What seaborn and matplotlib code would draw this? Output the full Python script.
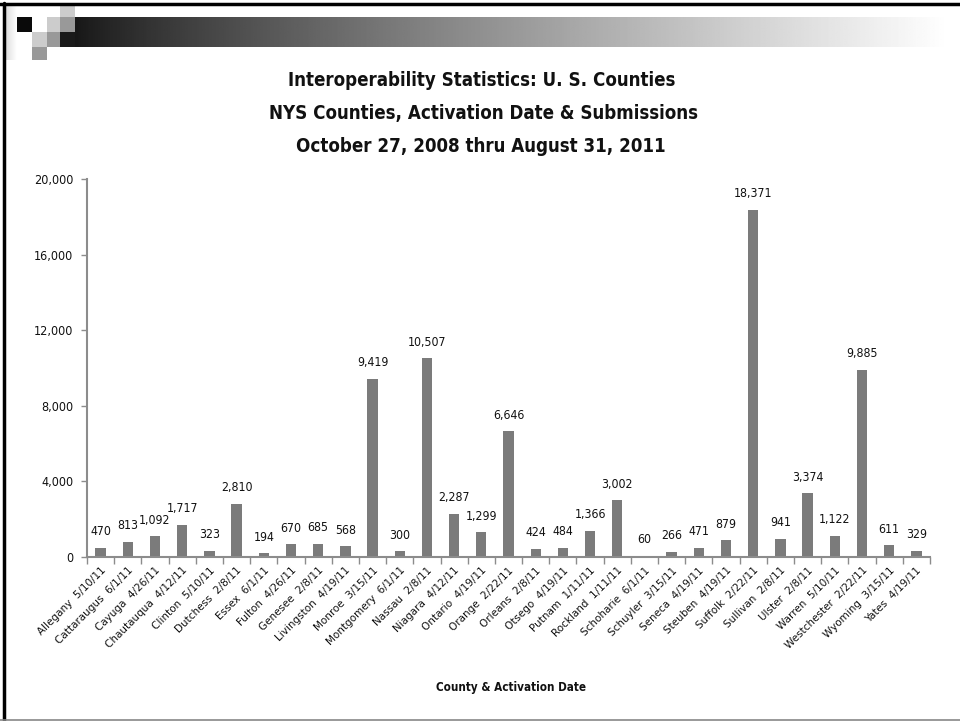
import matplotlib
matplotlib.use("Agg")
import matplotlib.pyplot as plt
from matplotlib.patches import Rectangle
from matplotlib.lines import Line2D
from matplotlib.ticker import FixedLocator, FuncFormatter
import numpy as np
import pandas as pd
import seaborn as sns

counties = ["Allegany", "Cattaraugus", "Cayuga", "Chautauqua", "Clinton", "Dutchess",
            "Essex", "Fulton", "Genesee", "Livingston", "Monroe", "Montgomery", "Nassau",
            "Niagara", "Ontario", "Orange", "Orleans", "Otsego", "Putnam", "Rockland",
            "Schoharie", "Schuyler", "Seneca", "Steuben", "Suffolk", "Sullivan", "Ulster",
            "Warren", "Westchester", "Wyoming", "Yates"]
dates = ["5/10/11", "6/1/11", "4/26/11", "4/12/11", "5/10/11", "2/8/11",
         "6/1/11", "4/26/11", "2/8/11", "4/19/11", "3/15/11", "6/1/11", "2/8/11",
         "4/12/11", "4/19/11", "2/22/11", "2/8/11", "4/19/11", "1/11/11", "1/11/11",
         "6/1/11", "3/15/11", "4/19/11", "4/19/11", "2/22/11", "2/8/11", "2/8/11",
         "5/10/11", "2/22/11", "3/15/11", "4/19/11"]
submissions = [470, 813, 1092, 1717, 323, 2810, 194, 670, 685, 568, 9419, 300, 10507,
               2287, 1299, 6646, 424, 484, 1366, 3002, 60, 266, 471, 879, 18371, 941,
               3374, 1122, 9885, 611, 329]
y_ticks = [0, 4000, 8000, 12000, 16000, 20000]
title_lines = ["Interoperability Statistics: U. S. Counties",
               "NYS Counties, Activation Date & Submissions",
               "October 27, 2008 thru August 31, 2011"]
x_label = "County & Activation Date"

labels = [f"{c}  {d}" for c, d in zip(counties, dates)]
df = pd.DataFrame({"label": labels, "value": submissions})

sns.set_theme(style="white")
plt.rcParams["font.family"] = ["DejaVu Sans"]

W, H = 960, 721
fig = plt.figure(figsize=(W / 100, H / 100), dpi=100)
fig.patch.set_facecolor("white")
renderer = fig.canvas.get_renderer()

def fx(px):
    return px / W

def fy(py):
    return 1 - py / H

def fit_width(txt, target_px):
    bb = txt.get_window_extent(renderer=renderer)
    txt.set_fontsize(txt.get_fontsize() * target_px / bb.width)

# ---- slide decorations ----
grad_ax = fig.add_axes([fx(75), fy(47), fx(948 - 75), 30 / H])
grad = np.linspace(0, 1, 512) ** 0.85
grad_ax.imshow(np.vstack([grad, grad]), cmap="gray", vmin=-0.1, vmax=1.0,
               aspect="auto", extent=[0, 1, 0, 1])
grad_ax.set_axis_off()

strip_ax = fig.add_axes([fx(5), fy(60), fx(12), 55 / H])
sgrad = np.linspace(0.86, 1.0, 64)
strip_ax.imshow(np.vstack([sgrad, sgrad]), cmap="gray", vmin=0, vmax=1,
                aspect="auto", extent=[0, 1, 0, 1])
strip_ax.set_axis_off()

squares = [
    (17, 17, 15, 15, "#0a0a0a"),
    (47, 17, 13, 15, "#cccccc"),
    (60, 17, 15, 15, "#999999"),
    (60, 5, 15, 12, "#cccccc"),
    (32, 32, 15, 15, "#cccccc"),
    (47, 32, 13, 15, "#999999"),
    (60, 32, 15, 15, "#1a1a1a"),
    (32, 47, 15, 13, "#999999"),
]
for x0, y0, w, h, c in squares:
    fig.patches.append(Rectangle((fx(x0), fy(y0 + h)), fx(w), h / H,
                                 transform=fig.transFigure, facecolor=c,
                                 edgecolor="none", zorder=5))

# frame lines
fig.lines.append(Line2D([0, 1], [fy(4), fy(4)], transform=fig.transFigure,
                        color="black", lw=2.5, zorder=6))
fig.lines.append(Line2D([fx(4), fx(4)], [fy(3), 0], transform=fig.transFigure,
                        color="black", lw=2.5, zorder=6))
fig.lines.append(Line2D([0, 1], [fy(719.5), fy(719.5)], transform=fig.transFigure,
                        color="#888888", lw=1.2, zorder=6))

# ---- titles ----
title_centers = [482, 483, 481]
title_texts = []
for i, t in enumerate(title_lines):
    tt = fig.text(fx(title_centers[i]), fy(80 + 33 * i), t, ha="center", va="center",
                  fontsize=14, fontweight="bold", fontstretch="condensed",
                  family="DejaVu Sans", color="#111111")
    title_texts.append(tt)
fit_width(title_texts[0], 392)
for tt in title_texts[1:]:
    tt.set_fontsize(title_texts[0].get_fontsize())

# ---- chart ----
ax = fig.add_axes([fx(87), fy(557), fx(930 - 87), (557 - 179) / H])
sns.barplot(data=df, x="label", y="value", color="#7b7b7b", width=0.38,
            saturation=1, ax=ax, edgecolor="none")
ax.set_xlim(-0.5, len(labels) - 0.5)
ax.set_ylim(0, 20000)
ax.set_yticks(y_ticks)
ax.yaxis.set_major_formatter(FuncFormatter(lambda v, p: f"{int(v):,}"))
for s in ["top", "right"]:
    ax.spines[s].set_visible(False)
for s in ["left", "bottom"]:
    ax.spines[s].set_color("#8c8c8c")
    ax.spines[s].set_linewidth(1.5)

ax.tick_params(axis="y", which="major", direction="out", length=4, width=1,
               color="#8c8c8c", pad=6, left=True)
for lab in ax.get_yticklabels():
    lab.set_fontstretch("condensed")
    lab.set_fontsize(9)
    lab.set_color("#111111")

ax.set_xticks(range(len(labels)))
ax.set_xticklabels(labels, rotation=45, ha="right", rotation_mode="anchor",
                   fontsize=7.5, color="#111111")
ax.tick_params(axis="x", which="major", length=0, pad=6)
ax.xaxis.set_minor_locator(FixedLocator(np.arange(-0.5, len(labels), 1.0)))
ax.tick_params(axis="x", which="minor", direction="out", length=5, width=1,
               color="#8c8c8c", bottom=True)

ax.set_xlabel("")
ax.set_ylabel("")
xl = fig.text(fx(511), fy(688), x_label, ha="center", va="center", fontsize=9,
              fontweight="bold", fontstretch="condensed", family="DejaVu Sans",
              color="#111111")
fit_width(xl, 150)

for i, v in enumerate(submissions):
    ax.annotate(f"{v:,}", (i, v), xytext=(0, 7), textcoords="offset points",
                ha="center", va="bottom", fontsize=8.8, fontstretch="condensed",
                color="#111111")

fig.savefig("out.png", dpi=100, facecolor="white")
